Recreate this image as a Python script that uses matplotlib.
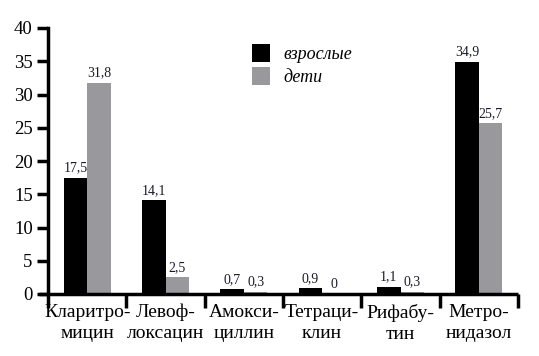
import matplotlib.pyplot as plt
import numpy as np

categories = ['Кларитро-\nмицин', 'Левоф-\nлоксацин', 'Амокси-\nциллин',
              'Тетраци-\nклин', 'Рифабу-\nтин', 'Метро-\nнидазол']
adults = [17.5, 14.1, 0.7, 0.9, 1.1, 34.9]
children = [31.8, 2.5, 0.3, 0.0, 0.3, 25.7]
adult_labels = ['17,5', '14,1', '0,7', '0,9', '1,1', '34,9']
child_labels = ['31,8', '2,5', '0,3', '0', '0,3', '25,7']
yticks = [0, 5, 10, 15, 20, 25, 30, 35, 40]

plt.rcParams['font.family'] = 'serif'
plt.rcParams['font.serif'] = ['Liberation Serif', 'DejaVu Serif']

fig = plt.figure(figsize=(5.39, 3.56), dpi=100)
ax = fig.add_axes([48 / 539, 62 / 356, 470 / 539, 266 / 356])

x = np.arange(len(categories))
w = 0.3
b1 = ax.bar(x - w / 2, adults, w, color='black', label='взрослые')
b2 = ax.bar(x + w / 2, children, w, color='#99989d', label='дети')

for xi, v, t in zip(x, adults, adult_labels):
    ax.text(xi - w / 2, v + 0.5, t, ha='center', va='bottom', fontsize=10, color='#1a1a2a')
for xi, v, t in zip(x, children, child_labels):
    ax.text(xi + w / 2, v + 0.5, t, ha='center', va='bottom', fontsize=10, color='#1a1a2a')

ax.set_xlim(-0.5, 5.5)
ax.set_ylim(0, 40)
ax.set_yticks(yticks)
ax.set_yticklabels([str(t) for t in yticks], fontsize=13.5)
ax.set_xticks(x)
ax.set_xticklabels(categories, fontsize=14, linespacing=1.3)
ax.set_xticks(np.arange(-0.5, 6, 1), minor=True)
ax.tick_params(axis='x', which='major', length=0, pad=7)
ax.tick_params(axis='x', which='minor', length=10, width=2.5, direction='out')
ax.tick_params(axis='y', length=8, width=2.5, pad=3)

for s in ['top', 'right']:
    ax.spines[s].set_visible(False)
ax.spines['left'].set_linewidth(2.5)
ax.spines['bottom'].set_linewidth(2.5)
ax.spines['bottom'].set_bounds(-0.62, 5.5)
ax.spines['bottom'].set_capstyle('butt')

ax.legend(handles=[b1, b2], loc='upper left', bbox_to_anchor=(0.40, 1.0),
          frameon=False, prop={'style': 'italic', 'size': 13},
          handlelength=1.0, handleheight=1.15, handletextpad=0.75, labelspacing=0.2)

fig.savefig('out.png', dpi=100)
